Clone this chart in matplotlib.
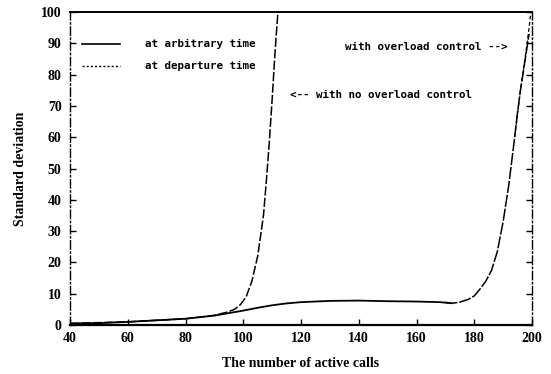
import matplotlib
matplotlib.use("Agg")
import matplotlib.pyplot as plt
from matplotlib.lines import Line2D

# Data
x_arbitrary = [40, 50, 60, 70, 80, 90, 95, 100, 105, 110, 115, 120, 130, 140, 150, 160, 168, 172]
y_arbitrary = [0.5, 0.6, 1.0, 1.5, 2.0, 3.0, 3.8, 4.6, 5.5, 6.3, 6.9, 7.3, 7.7, 7.8, 7.6, 7.5, 7.3, 7.0]

x_no_ctrl_dep = [40, 60, 80, 90, 94, 97, 99, 101, 103, 105, 107, 108, 109, 110, 111, 112]
y_no_ctrl_dep = [0.5, 1.0, 2.0, 3.1, 4.0, 5.0, 6.5, 9.0, 14.0, 22.0, 35.0, 46.0, 58.0, 72.0, 87.0, 100.0]

x_ctrl_arb = [170, 172, 175, 178, 180, 182, 184, 186, 188, 190, 192, 194, 195, 196, 198, 199]
y_ctrl_arb = [7.2, 6.9, 7.3, 8.2, 9.3, 11.5, 14.0, 17.5, 23.5, 33.0, 45.0, 60.0, 68.0, 75.0, 87.0, 93.0]

x_ctrl_dep = [194, 196, 198, 199, 199.6]
y_ctrl_dep = [60.0, 75.0, 88.0, 95.0, 100.0]

x_ticks = [40, 60, 80, 100, 120, 140, 160, 180, 200]
y_ticks = [0, 10, 20, 30, 40, 50, 60, 70, 80, 90, 100]

legend_labels = ["at arbitrary time", "at departure time"]

plt.rcParams['font.family'] = ['Liberation Serif', 'DejaVu Serif']
mono = ['DejaVu Sans Mono']

fig = plt.figure(figsize=(5.51, 3.74), dpi=100)
ax = fig.add_axes([70/551, 1-325/374, (532-70)/551, (325-12)/374])

ax.plot(x_arbitrary, y_arbitrary, color='black', lw=1.3, solid_capstyle='round')
ax.plot(x_no_ctrl_dep, y_no_ctrl_dep, color='black', lw=1.1, linestyle=(0, (6, 1.5)))
ax.plot(x_ctrl_arb, y_ctrl_arb, color='black', lw=1.1, linestyle=(0, (8, 1.2)))
ax.plot(x_ctrl_dep, y_ctrl_dep, color='black', lw=0.9, linestyle=(0, (3, 2)))

ax.set_xlim(40, 200)
ax.set_ylim(0, 100)
ax.set_xticks(x_ticks)
ax.set_yticks(y_ticks)
ax.set_xticklabels([str(v) for v in x_ticks], fontsize=10, fontweight='bold')
ax.set_yticklabels([str(v) for v in y_ticks], fontsize=10, fontweight='bold')
ax.tick_params(axis='both', direction='in', length=4, width=1, colors='black')
ax.tick_params(axis='y', right=True, left=True, pad=6)
ax.tick_params(axis='x', top=False, bottom=True, pad=5)

for side in ['left', 'right']:
    ax.spines[side].set_linestyle((0, (6, 2, 1, 2)))
    ax.spines[side].set_linewidth(1.0)
ax.spines['top'].set_linewidth(1.4)
ax.spines['bottom'].set_linewidth(1.6)

ax.set_xlabel("The number of active calls", fontsize=10, fontweight='bold', labelpad=9)
ax.set_ylabel("Standard deviation", fontsize=10, fontweight='bold', labelpad=10)

# legend drawn manually in axes coordinates
ax.add_line(Line2D([0.026, 0.108], [0.898, 0.898], transform=ax.transAxes, color='black', lw=1.2))
ax.add_line(Line2D([0.026, 0.108], [0.827, 0.827], transform=ax.transAxes, color='black', lw=1.0,
                   linestyle=(0, (1.5, 1.5))))
ax.text(0.162, 0.898, legend_labels[0], transform=ax.transAxes, family=mono,
        fontsize=7.8, fontweight='bold', va='center', ha='left')
ax.text(0.162, 0.827, legend_labels[1], transform=ax.transAxes, family=mono,
        fontsize=7.8, fontweight='bold', va='center', ha='left')

ax.text(0.595, 0.888, "with overload control -->", transform=ax.transAxes, family=mono,
        fontsize=7.8, fontweight='bold', va='center', ha='left')
ax.text(0.476, 0.735, "<-- with no overload control", transform=ax.transAxes, family=mono,
        fontsize=7.8, fontweight='bold', va='center', ha='left')

fig.savefig("out.png", dpi=100)
